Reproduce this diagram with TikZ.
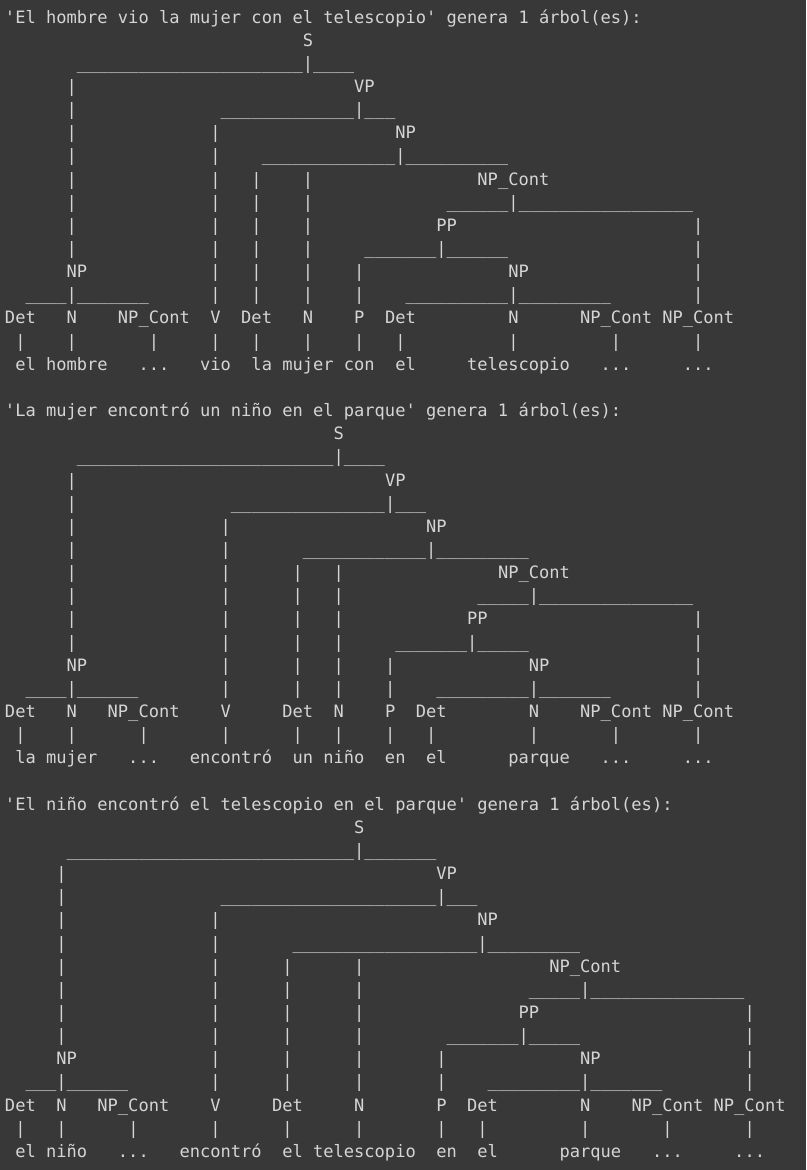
\documentclass[tikz,border=0pt]{standalone}
\usepackage{fontspec}
\setmonofont{DejaVu Sans Mono}
\ExplSyntaxOn
\cs_new_eq:NN \reptimes \prg_replicate:nn
\ExplSyntaxOff
% runs of blanks and underscores, one character cell each
\newcommand\blanks[1]{\reptimes{#1}{\ }}
\newcommand\unds[1]{\reptimes{#1}{\_}}
\definecolor{bgc}{RGB}{56,56,56}
\definecolor{fgc}{RGB}{213,213,213}
% one text row of the console output, baseline at row #1
\newcommand\row[2]{\node[textrow] (r#1) at (5,{23+23.15*#1}) {#2};}
\begin{document}
\begin{tikzpicture}[x=1pt,y=-1pt,
  textrow/.style={anchor=base west,inner sep=0pt,outer sep=0pt,text=fgc,
    font=\ttfamily\frenchspacing\fontsize{17.06pt}{23.15pt}\selectfont}]
\fill[bgc] (0,0) rectangle (806,1170);
\useasboundingbox (0,0) rectangle (806,1170);

% first sentence
\row{0}{\textquotesingle El hombre vio la mujer con el telescopio\textquotesingle\ genera 1 árbol(es):}
\row{1}{\blanks{29}S}
\row{2}{\blanks{7}\unds{22}|\unds{4}}
\row{3}{\blanks{6}|\blanks{27}VP}
\row{4}{\blanks{6}|\blanks{14}\unds{13}|\unds{3}}
\row{5}{\blanks{6}|\blanks{13}|\blanks{17}NP}
\row{6}{\blanks{6}|\blanks{13}|\blanks{4}\unds{13}|\unds{10}}
\row{7}{\blanks{6}|\blanks{13}|\blanks{3}|\blanks{4}|\blanks{16}NP\_Cont}
\row{8}{\blanks{6}|\blanks{13}|\blanks{3}|\blanks{4}|\blanks{13}\unds{6}|\unds{17}}
\row{9}{\blanks{6}|\blanks{13}|\blanks{3}|\blanks{4}|\blanks{12}PP\blanks{23}|}
\row{10}{\blanks{6}|\blanks{13}|\blanks{3}|\blanks{4}|\blanks{5}\unds{7}|\unds{6}\blanks{18}|}
\row{11}{\blanks{6}NP\blanks{12}|\blanks{3}|\blanks{4}|\blanks{4}|\blanks{14}NP\blanks{16}|}
\row{12}{\blanks{2}\unds{4}|\unds{7}\blanks{6}|\blanks{3}|\blanks{4}|\blanks{4}|\blanks{4}\unds{10}|\unds{9}\blanks{8}|}
\row{13}{Det\blanks{3}N\blanks{4}NP\_Cont\blanks{2}V\blanks{2}Det\blanks{3}N\blanks{4}P\blanks{2}Det\blanks{9}N\blanks{6}NP\_Cont\blanks{1}NP\_Cont}
\row{14}{\blanks{1}|\blanks{4}|\blanks{7}|\blanks{5}|\blanks{3}|\blanks{4}|\blanks{4}|\blanks{3}|\blanks{10}|\blanks{9}|\blanks{7}|}
\row{15}{\blanks{1}el hombre\blanks{3}...\blanks{3}vio\blanks{2}la mujer con\blanks{2}el\blanks{5}telescopio\blanks{3}...\blanks{5}...}

% second sentence
\row{17}{\textquotesingle La mujer encontró un niño en el parque\textquotesingle\ genera 1 árbol(es):}
\row{18}{\blanks{32}S}
\row{19}{\blanks{7}\unds{25}|\unds{4}}
\row{20}{\blanks{6}|\blanks{30}VP}
\row{21}{\blanks{6}|\blanks{15}\unds{15}|\unds{3}}
\row{22}{\blanks{6}|\blanks{14}|\blanks{19}NP}
\row{23}{\blanks{6}|\blanks{14}|\blanks{7}\unds{12}|\unds{9}}
\row{24}{\blanks{6}|\blanks{14}|\blanks{6}|\blanks{3}|\blanks{15}NP\_Cont}
\row{25}{\blanks{6}|\blanks{14}|\blanks{6}|\blanks{3}|\blanks{13}\unds{5}|\unds{15}}
\row{26}{\blanks{6}|\blanks{14}|\blanks{6}|\blanks{3}|\blanks{12}PP\blanks{20}|}
\row{27}{\blanks{6}|\blanks{14}|\blanks{6}|\blanks{3}|\blanks{5}\unds{7}|\unds{5}\blanks{16}|}
\row{28}{\blanks{6}NP\blanks{13}|\blanks{6}|\blanks{3}|\blanks{4}|\blanks{13}NP\blanks{14}|}
\row{29}{\blanks{2}\unds{4}|\unds{6}\blanks{8}|\blanks{6}|\blanks{3}|\blanks{4}|\blanks{4}\unds{9}|\unds{7}\blanks{8}|}
\row{30}{Det\blanks{3}N\blanks{3}NP\_Cont\blanks{4}V\blanks{5}Det\blanks{2}N\blanks{4}P\blanks{2}Det\blanks{8}N\blanks{4}NP\_Cont\blanks{1}NP\_Cont}
\row{31}{\blanks{1}|\blanks{4}|\blanks{6}|\blanks{7}|\blanks{6}|\blanks{3}|\blanks{4}|\blanks{3}|\blanks{9}|\blanks{7}|\blanks{7}|}
\row{32}{\blanks{1}la mujer\blanks{3}...\blanks{3}encontró\blanks{2}un niño\blanks{2}en\blanks{2}el\blanks{6}parque\blanks{3}...\blanks{5}...}

% third sentence
\row{34}{\textquotesingle El niño encontró el telescopio en el parque\textquotesingle\ genera 1 árbol(es):}
\row{35}{\blanks{34}S}
\row{36}{\blanks{6}\unds{28}|\unds{7}}
\row{37}{\blanks{5}|\blanks{36}VP}
\row{38}{\blanks{5}|\blanks{15}\unds{21}|\unds{3}}
\row{39}{\blanks{5}|\blanks{14}|\blanks{25}NP}
\row{40}{\blanks{5}|\blanks{14}|\blanks{7}\unds{18}|\unds{9}}
\row{41}{\blanks{5}|\blanks{14}|\blanks{6}|\blanks{6}|\blanks{18}NP\_Cont}
\row{42}{\blanks{5}|\blanks{14}|\blanks{6}|\blanks{6}|\blanks{16}\unds{5}|\unds{15}}
\row{43}{\blanks{5}|\blanks{14}|\blanks{6}|\blanks{6}|\blanks{15}PP\blanks{20}|}
\row{44}{\blanks{5}|\blanks{14}|\blanks{6}|\blanks{6}|\blanks{8}\unds{7}|\unds{5}\blanks{16}|}
\row{45}{\blanks{5}NP\blanks{13}|\blanks{6}|\blanks{6}|\blanks{7}|\blanks{13}NP\blanks{14}|}
\row{46}{\blanks{2}\unds{3}|\unds{6}\blanks{8}|\blanks{6}|\blanks{6}|\blanks{7}|\blanks{4}\unds{9}|\unds{7}\blanks{8}|}
\row{47}{Det\blanks{2}N\blanks{3}NP\_Cont\blanks{4}V\blanks{5}Det\blanks{5}N\blanks{7}P\blanks{2}Det\blanks{8}N\blanks{4}NP\_Cont\blanks{1}NP\_Cont}
\row{48}{\blanks{1}|\blanks{3}|\blanks{6}|\blanks{7}|\blanks{6}|\blanks{6}|\blanks{7}|\blanks{3}|\blanks{9}|\blanks{7}|\blanks{7}|}
\row{49}{\blanks{1}el niño\blanks{3}...\blanks{3}encontró\blanks{2}el telescopio\blanks{2}en\blanks{2}el\blanks{6}parque\blanks{3}...\blanks{5}...}
\end{tikzpicture}
\end{document}
